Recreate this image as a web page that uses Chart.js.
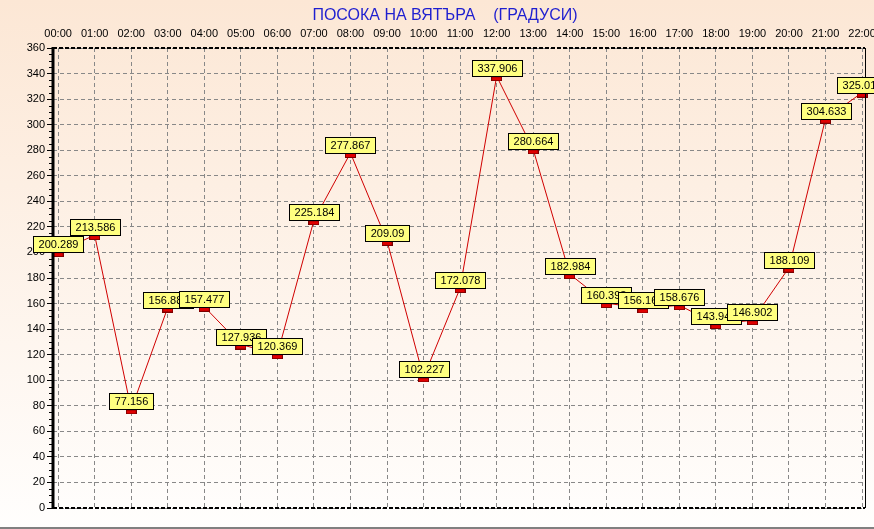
<!DOCTYPE html>
<html>
<head>
<meta charset="utf-8">
<script src="https://cdn.jsdelivr.net/npm/chart.js@4"></script>
<style>
  html, body { margin: 0; padding: 0; background: #fff; }
  #wrap { width: 874px; height: 529px; }
</style>
</head>
<body>
<div id="wrap"><canvas id="myChart" width="874" height="529"></canvas></div>
<script>
const chartTitle = 'ПОСОКА НА ВЯТЪРА    (ГРАДУСИ)';
const hours = ['00:00', '01:00', '02:00', '03:00', '04:00', '05:00', '06:00', '07:00',
    '08:00', '09:00', '10:00', '11:00', '12:00', '13:00', '14:00', '15:00', '16:00',
    '17:00', '18:00', '19:00', '20:00', '21:00', '22:00'];
const directions = [200.289, 213.586, 77.156, 156.885, 157.477, 127.936, 120.369, 225.184,
    277.867, 209.09, 102.227, 172.078, 337.906, 280.664, 182.984, 160.393, 156.163,
    158.676, 143.943, 146.902, 188.109, 304.633, 325.016];
const yMin = 0, yMax = 360, yStep = 20;

const font = '"Liberation Sans", Arial, sans-serif';

// marker: small red bar hanging just below the point
function makeMarker() {
    const c = document.createElement('canvas');
    c.width = 11; c.height = 10;
    const g = c.getContext('2d');
    g.fillStyle = '#7a0000';
    g.fillRect(0, 5, 11, 5);
    g.fillStyle = '#e00000';
    g.fillRect(1, 6, 9, 3);
    return c;
}

const background = {
    id: 'background',
    beforeDraw(chart) {
        const { ctx, width, height } = chart;
        const grad = ctx.createLinearGradient(0, 0, 0, height);
        grad.addColorStop(0, '#fce7d5');
        grad.addColorStop(1, '#fffefd');
        ctx.save();
        ctx.fillStyle = grad;
        ctx.fillRect(0, 0, width, height);
        ctx.fillStyle = '#808080';
        ctx.fillRect(0, height - 2, width, 2);
        ctx.fillStyle = '#1f1fd0';
        ctx.font = '16px ' + font;
        ctx.textAlign = 'center';
        ctx.textBaseline = 'middle';
        ctx.fillText(chartTitle, 445, 16);
        ctx.restore();
    }
};

const frame = {
    id: 'frame',
    afterDatasetsDraw(chart) {
        const { ctx, chartArea: a } = chart;
        const y = chart.scales.y;
        ctx.save();
        ctx.strokeStyle = '#000';
        // top and bottom dashed
        ctx.lineWidth = 2;
        ctx.setLineDash([4, 2]);
        ctx.beginPath();
        ctx.moveTo(a.left, a.top); ctx.lineTo(a.right, a.top);
        ctx.moveTo(a.left, a.bottom); ctx.lineTo(a.right, a.bottom);
        ctx.stroke();
        ctx.setLineDash([]);
        // right solid
        ctx.lineWidth = 1;
        ctx.beginPath();
        ctx.moveTo(a.right + 0.5, a.top); ctx.lineTo(a.right + 0.5, a.bottom);
        ctx.stroke();
        // minor ticks
        ctx.beginPath();
        for (let v = yMin; v <= yMax; v += 5) {
            if (v % yStep === 0) continue;
            const py = Math.round(y.getPixelForValue(v)) + 0.5;
            ctx.moveTo(a.left - 4, py); ctx.lineTo(a.left, py);
        }
        ctx.stroke();
        // thick left axis
        ctx.lineWidth = 3;
        ctx.beginPath();
        ctx.moveTo(a.left, a.top - 1); ctx.lineTo(a.left, a.bottom + 1);
        ctx.stroke();
        ctx.restore();
    }
};

const valueLabels = {
    id: 'valueLabels',
    afterDraw(chart) {
        const { ctx } = chart;
        const meta = chart.getDatasetMeta(0);
        ctx.save();
        ctx.font = '11px ' + font;
        ctx.textAlign = 'center';
        ctx.textBaseline = 'middle';
        meta.data.forEach((pt, i) => {
            const txt = String(directions[i]);
            const w = Math.round(ctx.measureText(txt).width) + 10;
            const h = 16;
            const x0 = Math.round(pt.x - w / 2) + 0.5;
            const y0 = Math.round(pt.y - h) + 0.5;
            ctx.fillStyle = '#ffff80';
            ctx.fillRect(x0, y0, w, h);
            ctx.strokeStyle = '#000';
            ctx.lineWidth = 1;
            ctx.strokeRect(x0, y0, w, h);
            ctx.fillStyle = '#000';
            ctx.fillText(txt, x0 + w / 2, y0 + h / 2 + 0.5);
        });
        ctx.restore();
    }
};

function drawChart() {
    const ctx = document.getElementById('myChart').getContext('2d');
    new Chart(ctx, {
        type: 'line',
        data: {
            datasets: [{
                data: directions.map((v, i) => ({ x: i, y: v })),
                borderColor: '#d00000',
                borderWidth: 1,
                pointStyle: makeMarker(),
                pointRadius: 5,
                pointHoverRadius: 5,
                tension: 0,
                clip: false
            }]
        },
        options: {
            responsive: false,
            animation: false,
            events: [],
            layout: { padding: { left: 0, top: 0, right: 9, bottom: 21 } },
            plugins: {
                legend: { display: false },
                title: { display: false },
                tooltip: { enabled: false }
            },
            scales: {
                x: {
                    type: 'linear',
                    position: 'top',
                    min: -0.14,
                    max: 22.08,
                    afterBuildTicks: s => { s.ticks = hours.map((h, i) => ({ value: i })); },
                    afterFit: s => { s.height = 48; s.paddingLeft = 0; s.paddingRight = 0; },
                    ticks: {
                        callback: v => hours[v],
                        font: { family: font, size: 11 },
                        color: '#000',
                        padding: 7,
                        maxRotation: 0,
                        autoSkip: false
                    },
                    grid: { color: '#888', lineWidth: 1, drawTicks: false },
                    border: { display: false, dash: [4, 3] }
                },
                y: {
                    min: yMin,
                    max: yMax,
                    afterFit: s => { s.width = 53; s.paddingTop = 0; s.paddingBottom = 0; },
                    ticks: {
                        stepSize: yStep,
                        font: { family: font, size: 11 },
                        color: '#000',
                        padding: 2
                    },
                    grid: { color: '#888', lineWidth: 1, tickLength: 6, tickColor: '#000', tickBorderDash: [] },
                    border: { display: false, dash: [4, 3] }
                }
            }
        },
        plugins: [background, frame, valueLabels]
    });
}

document.addEventListener('DOMContentLoaded', drawChart);
</script>
</body>
</html>
